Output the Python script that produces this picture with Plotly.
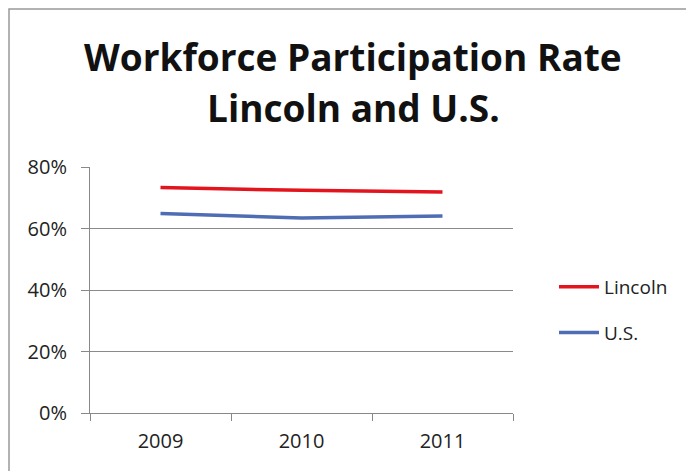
import plotly.graph_objects as go

years = ["2009", "2010", "2011"]
lincoln = [0.733, 0.724, 0.719]
us = [0.649, 0.634, 0.641]
y_ticks = [0, 0.2, 0.4, 0.6, 0.8]
y_labels = ["0%", "20%", "40%", "60%", "80%"]

OFF = 8  # page offset of the figure inside the browser window
W, H = 694, 471
L, T = 90 - OFF, 167 - OFF
pw, ph = 513 - 90, 413 - 167
R, B = W - L - pw, H - T - ph


def px(x):
    return (x - OFF - L) / pw


def py(y):
    return (T + ph - (y - OFF)) / ph


fig = go.Figure()
fig.add_trace(go.Scatter(x=years, y=lincoln, name="Lincoln", mode="lines", legendgroup="a",
                         line=dict(color="#e3141d", width=3.5)))
fig.add_trace(go.Scatter(x=years, y=us, name="U.S.", mode="lines", legendgroup="b",
                         line=dict(color="#4f6db4", width=3.5)))

font = "'Open Sans', sans-serif"
fig.update_layout(
    width=W, height=H,
    margin=dict(l=L, r=R, t=T, b=B),
    paper_bgcolor="white", plot_bgcolor="white",
    font=dict(family=font, size=20, color="#222"),
    showlegend=True,
    legend=dict(x=px(554), y=py(310), xanchor="left", yanchor="middle",
                font=dict(size=19), tracegroupgap=18, itemwidth=40,
                bgcolor="rgba(0,0,0,0)"),
    xaxis=dict(type="category", range=[-0.5, 2.5], showgrid=False,
               showline=True, linecolor="#888", linewidth=1,
               ticks="outside", tickson="boundaries", ticklen=7, tickcolor="#888",
               ticklabelstandoff=10,
               tickfont=dict(size=20, color="#222")),
    yaxis=dict(range=[0, 0.8], tickvals=y_ticks, ticktext=y_labels,
               showgrid=True, gridcolor="#8a8a8a", gridwidth=1,
               showline=True, linecolor="#888", linewidth=1,
               ticks="outside", ticklen=8, tickcolor="#888",
               ticklabelstandoff=10,
               tickfont=dict(size=20, color="#222"), zeroline=False),
)

fig.add_annotation(text="<b>Workforce Participation Rate</b>", xref="paper", yref="paper",
                   x=px(353), y=py(57), xanchor="center", yanchor="middle",
                   showarrow=False, font=dict(size=37, color="#111", family=font))
fig.add_annotation(text="<b>Lincoln and U.S.</b>", xref="paper", yref="paper",
                   x=px(353), y=py(107), xanchor="center", yanchor="middle",
                   showarrow=False, font=dict(size=37, color="#111", family=font))

# outer chart frame
fig.add_shape(type="rect", xref="paper", yref="paper",
              x0=px(9), x1=px(720), y0=py(500), y1=py(9),
              line=dict(color="#999", width=1.5), fillcolor="rgba(0,0,0,0)", layer="below")

fig.write_html("out.html")
